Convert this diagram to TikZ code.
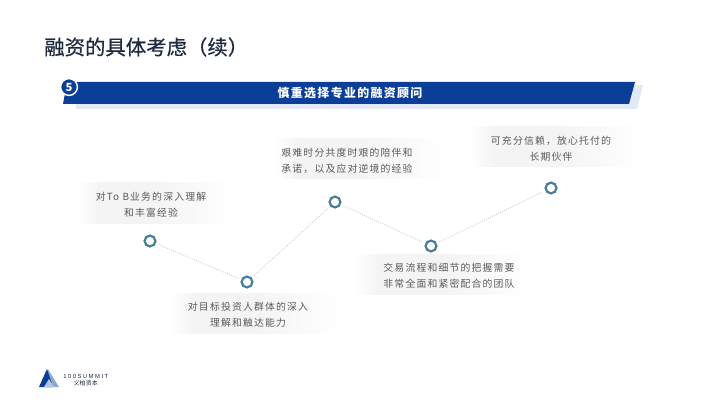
\documentclass[tikz,border=0pt]{standalone}
\usepackage{fontspec}
\setmainfont{Noto Sans CJK SC}
\newfontfamily\bodyfont[LetterSpace=12]{Noto Sans CJK SC}
\newfontfamily\headfont[LetterSpace=11]{Noto Sans CJK SC}
\newfontfamily\titlefont[FakeBold=0.5]{Noto Sans CJK SC}
\newfontfamily\logofont[LetterSpace=25]{Liberation Sans}
\usepackage{tikz}
\usetikzlibrary{positioning}

\definecolor{navy}{HTML}{0B3F97}
\definecolor{shadowblue}{HTML}{E2E8F4}
\definecolor{ringblue}{HTML}{4A7F9C}
\definecolor{titleink}{HTML}{1E2A40}
\definecolor{bodyink}{HTML}{5A5A5A}
\definecolor{bandgray}{gray}{0.955}
\pgfdeclarehorizontalshading{bandshade}{100bp}{color(0bp)=(white); color(25bp)=(white);
  color(32bp)=(bandgray); color(50bp)=(bandgray); color(75bp)=(white); color(100bp)=(white)}

\begin{document}
\begin{tikzpicture}[
  x=0.025cm, y=-0.025cm,
  band/.style={shading=bandshade, draw=none},
  caption/.style={align=center, text=bodyink, inner sep=0pt,
    font=\bodyfont\fontsize{7pt}{11.4pt}\selectfont},
  dot/.style={circle, draw=ringblue, line width=1.6pt, fill=white,
    minimum size=0.27cm, inner sep=0pt},
  link/.style={densely dotted, black!22, line width=0.6pt, shorten >=2pt, shorten <=2pt}
]
\useasboundingbox (0,0) rectangle (720,405);

% Title
\node[anchor=west, inner sep=0pt, text=titleink, font=\titlefont\fontsize{14.5pt}{16pt}\selectfont] (title) at (44,47) {融资的具体考虑（续）};

% Banner
\fill[shadowblue] (76,90) -- (643,85) -- (637,109) -- (76,109) -- cycle;
\fill[navy] (67,82) -- (635,82) -- (629,104) -- (63,104) -- cycle;
\node[circle, fill=navy, draw=white, line width=1pt, minimum size=0.42cm, inner sep=0pt,
  text=white, font=\fontsize{8pt}{9pt}\bfseries\selectfont] (num) at (69,87) {5};
\node[text=white, inner sep=0pt, font=\headfont\bfseries\fontsize{8.5pt}{9pt}\selectfont] (head) at (350,93) {慎重选择专业的融资顾问};

% Bands
\shade[band] (78,183) rectangle (233,224);
\shade[band] (170,293) rectangle (340,333);
\shade[band] (275,139) rectangle (445,179);
\shade[band] (355,254) rectangle (530,294);
\shade[band] (470,127) rectangle (642,167);

% Captions
\node[caption] (cap1) at (151,205) {对To B业务的深入理解\\和丰富经验};
\node[caption] (cap2) at (248,315) {对目标投资人群体的深入\\理解和触达能力};
\node[caption] (cap3) at (347,161) {艰难时分共度时艰的陪伴和\\承诺，以及应对逆境的经验};
\node[caption] (cap4) at (449,276) {交易流程和细节的把握需要\\非常全面和紧密配合的团队};
\node[caption] (cap5) at (551,149) {可充分信赖，放心托付的\\长期伙伴};

% Points
\node[dot] (pt1) at (150,241) {};
\node[dot] (pt2) at (247,282) {};
\node[dot] (pt3) at (335,202) {};
\node[dot] (pt4) at (431,246) {};
\node[dot] (pt5) at (551,188) {};

% Links
\foreach \a/\b in {pt1/pt2, pt2/pt3, pt3/pt4, pt4/pt5} {
  \draw[link] (\a) -- (\b);
}

% Logo
\fill[navy!45] (48,369) -- (59,387) -- (44,387) -- cycle;
\fill[navy] (47,369) -- (39,387) -- (53,387) -- cycle;
\fill[white!70!navy] (49,379) -- (44,387) -- (54,387) -- cycle;
\node[anchor=west, inner sep=0pt, text=titleink, font=\logofont\fontsize{4.2pt}{5pt}\selectfont] (logo) at (63,376) {100SUMMIT};
\node[below=1.5pt of logo, inner sep=0pt, text=titleink, font=\fontsize{4.3pt}{5pt}\selectfont] (logocn) {义柏资本};

\end{tikzpicture}
\end{document}
